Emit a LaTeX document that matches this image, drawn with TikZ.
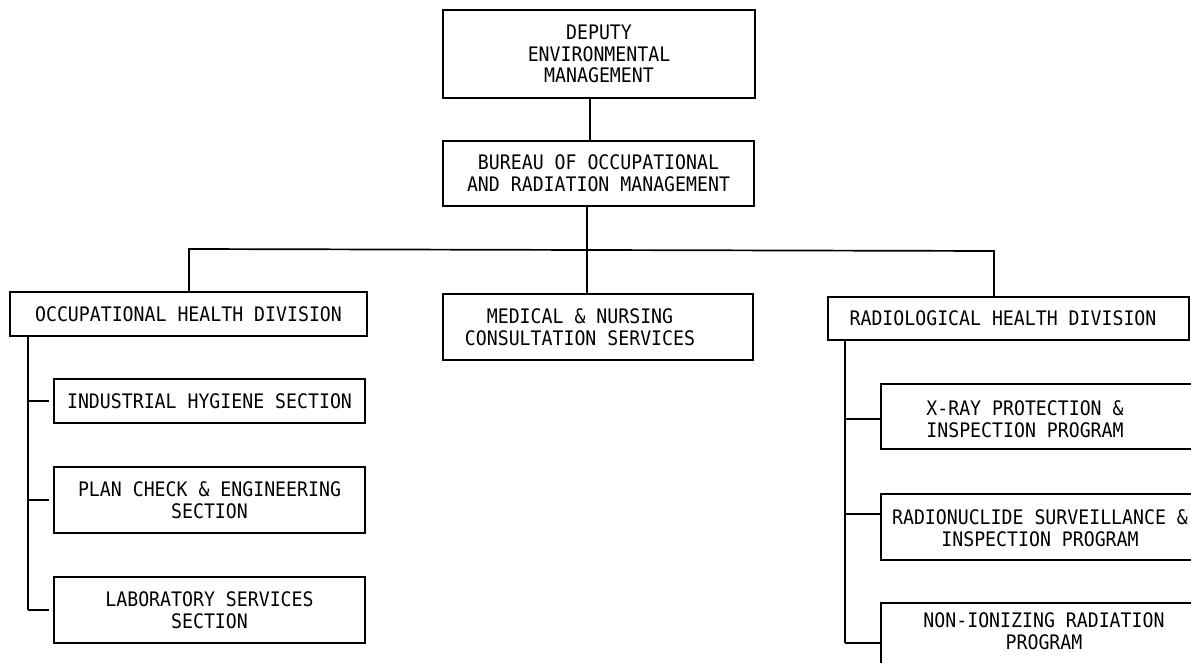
\documentclass[tikz,border=0pt]{standalone}
\usepackage{fontspec}
\newfontfamily\orgfont[FakeStretch=0.91]{DejaVu Sans Mono}
\begin{document}
\begin{tikzpicture}[x=1pt,y=-1pt,
  unit/.style={draw, line width=1.7pt, inner sep=0pt, align=center,
    font=\orgfont\fontsize{20}{21.8}\selectfont},
  txt/.style={inner sep=0pt, align=center,
    font=\orgfont\fontsize{20}{21.8}\selectfont},
  link/.style={line width=1.7pt}]
\useasboundingbox (0,0) rectangle (1191,663);
\clip (0,0) rectangle (1191,663);

% top of the chart
\node[unit, minimum width=312, minimum height=88] (dep) at (599,54)
  {DEPUTY\\ENVIRONMENTAL\\MANAGEMENT};
\node[unit, minimum width=311, minimum height=65] (bur) at (598.5,173.5)
  {BUREAU OF OCCUPATIONAL\\AND RADIATION MANAGEMENT};

% divisions
\node[unit, minimum width=357, minimum height=44] (occ) at (188.5,314)
  {OCCUPATIONAL HEALTH DIVISION};
\node[unit, minimum width=310, minimum height=66] (med) at (598,327) {};
\node[txt] (medt) at (580,327.5) {MEDICAL \& NURSING\\CONSULTATION SERVICES};
\node[unit, minimum width=361, minimum height=43] (rad) at (1008.5,318.5) {};
\node[txt] (radt) at (1003,318.5) {RADIOLOGICAL HEALTH DIVISION};

% occupational health sections
\node[unit, minimum width=311, minimum height=44] (ih) at (209.5,401)
  {INDUSTRIAL HYGIENE SECTION};
\node[unit, minimum width=311, minimum height=66] (pc) at (209.5,500)
  {PLAN CHECK \& ENGINEERING\\SECTION};
\node[unit, minimum width=311, minimum height=66] (lab) at (209.5,610)
  {LABORATORY SERVICES\\SECTION};

% radiological health programs
\node[unit, minimum width=319, minimum height=65] (xr) at (1040.5,416.5) {};
\node[txt] (xrt) at (1025,419) {X-RAY PROTECTION \&\\INSPECTION PROGRAM};
\node[unit, minimum width=319, minimum height=66] (rn) at (1040.5,527) {};
\node[txt] (rnt) at (1040,528) {RADIONUCLIDE SURVEILLANCE \&\\INSPECTION PROGRAM};
\node[unit, minimum width=319, minimum height=80] (ni) at (1040.5,643) {};
\node[txt] (nit) at (1044,631) {NON-IONIZING RADIATION\\PROGRAM};

% reporting lines
\coordinate (bus) at (587,250);
\coordinate (busL) at (189,249);
\coordinate (busR) at (994,251);
\coordinate (lsp) at (28,0);
\coordinate (rsp) at (845,0);

\draw[link] ([xshift=-9pt]dep.south) -- ([xshift=-9pt]dep.south |- bur.north);
\draw[link] (bur.south -| bus) -- (bus);
\draw[link] (occ.north -| busL) -- (busL) -- (busR) -- (rad.north -| busR);
\draw[link] (bus) -- (med.north -| bus);

\draw[link] (occ.south -| lsp) -- (lsp |- lab.west);
\draw[link] (lsp |- ih.west) -- ([xshift=-4pt]ih.west);
\draw[link] (lsp |- pc.west) -- ([xshift=-4pt]pc.west);
\draw[link] (lsp |- lab.west) -- ([xshift=-4pt]lab.west);

\coordinate (xrtick) at (881,419);
\coordinate (rntick) at (881,514);
\coordinate (nitick) at (881,643);
\draw[link] (rad.south -| rsp) -- (rsp |- nitick);
\draw[link] (rsp |- xrtick) -- (xrtick);
\draw[link] (rsp |- rntick) -- (rntick);
\draw[link] (rsp |- nitick) -- (nitick);
\end{tikzpicture}
\end{document}
